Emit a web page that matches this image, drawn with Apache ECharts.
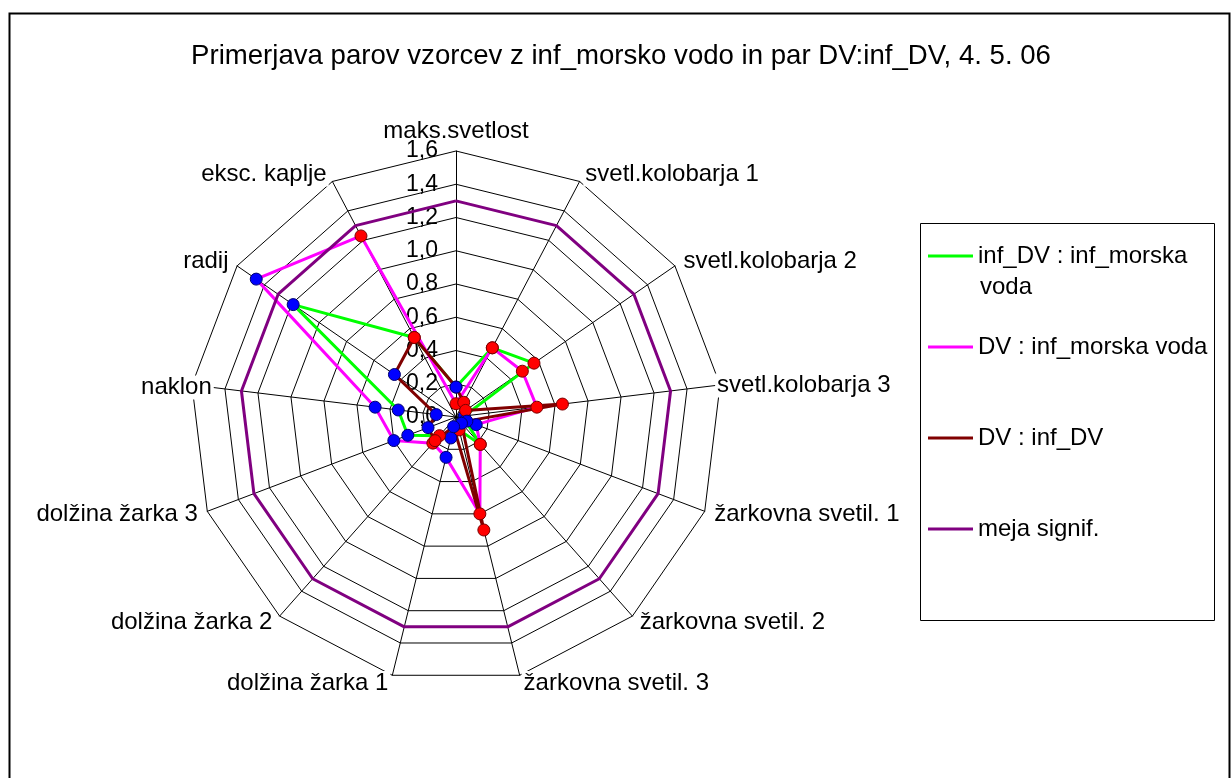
<!DOCTYPE html>
<html>
<head>
<meta charset="utf-8">
<script src="https://cdn.jsdelivr.net/npm/echarts@6/dist/echarts.min.js"></script>
<style>
html,body{margin:0;padding:0;background:#fff;}
#chart{width:1231px;height:778px;}
</style>
</head>
<body>
<div id="chart"></div>
<script>
// ---- data (clockwise from top) ----
const categories = ['maks.svetlost','svetl.kolobarja 1','svetl.kolobarja 2','svetl.kolobarja 3','žarkovna svetil. 1','žarkovna svetil. 2','žarkovna svetil. 3','dolžina žarka 1','dolžina žarka 2','dolžina žarka 3','naklon','radij','eksc. kaplje'];
const seriesNames = ['inf_DV : inf_morska voda','DV : inf_morska voda','DV : inf_DV','meja signif.'];
const greenValues   = [0.18, 0.47, 0.57, 0.05, 0.06, 0.22, 0.08, 0.13, 0.15, 0.31, 0.35, 1.19, 0.54];
const magentaValues = [0.08, 0.47, 0.485, 0.49, 0.13, 0.22, 0.60, 0.25, 0.21, 0.40, 0.49, 1.46, 1.23];
const darkRedValues = [0.18, 0.10, 0.07, 0.645, 0.07, 0.05, 0.70, 0.06, 0.19, 0.18, 0.12, 0.45, 0.54];
const limitValues   = [1.3, 1.3, 1.3, 1.3, 1.3, 1.3, 1.3, 1.3, 1.3, 1.3, 1.3, 1.3, 1.3];
// marker colours per point: 'r' = red, 'b' = blue
const greenMarkers   = ['b','r','r','b','b','r','r','b','r','b','b','b','r'];
const magentaMarkers = ['r','r','r','r','b','r','r','b','r','b','b','b','r'];
const darkRedMarkers = ['b','r','r','r','b','b','r','b','r','b','b','b','r'];
const tickValues = [0, 0.2, 0.4, 0.6, 0.8, 1.0, 1.2, 1.4, 1.6];

// ---- layout / style ----
const CX = 456, CY = 417, R = 266;
const FONT = '"Liberation Sans", Arial, sans-serif';
const lineColors = ['#00FF00', '#FF00FF', '#800000', '#800080'];
// label distance from the outer ring (Excel puts the side labels over the ring)
const nameGaps = { 'naklon': -22, 'svetl.kolobarja 3': -5 };

// ECharts radar runs counter-clockwise: reorder so it reads clockwise
const order = [0].concat(categories.map((c, i) => i).slice(1).reverse());
const reorder = arr => order.map(i => arr[i]);

const AX_MIN = tickValues[0], AX_MAX = tickValues[tickValues.length - 1];
const plainIndicator = order.map(i => ({ name: categories[i], min: AX_MIN, max: AX_MAX }));
const tickIndicator = order.map((i, k) => {
  const ind = { name: categories[i], min: AX_MIN, max: AX_MAX };
  if (k === 0) ind.axisLabel = { show: true };
  return ind;
});
const nameIndicator = order.map(i => {
  const ind = { name: categories[i], min: AX_MIN, max: AX_MAX };
  if (nameGaps[categories[i]] !== undefined) ind.nameGap = nameGaps[categories[i]];
  return ind;
});

const valueSets = [greenValues, magentaValues, darkRedValues, limitValues];
const lineSeries = valueSets.map((vals, s) => ({
  type: 'radar',
  radarIndex: 0,
  name: seriesNames[s],
  symbol: 'none',
  z: 4 + s,
  color: lineColors[s],
  lineStyle: { color: lineColors[s], width: 3 },
  data: [{ value: reorder(vals), name: seriesNames[s] }]
}));

const markerFill = { r: '#FF0000', b: '#0000FF' };
const markerBorder = { r: '#7a0000', b: '#000070' };
const markerSets = [[greenValues, greenMarkers], [magentaValues, magentaMarkers], [darkRedValues, darkRedMarkers]];
const markerSeries = markerSets.map(([vals, cols], s) => ({
  type: 'scatter',
  name: 'markers ' + s,
  coordinateSystem: 'polar',
  symbol: 'circle',
  symbolSize: 12,
  z: 10 + s,
  silent: true,
  data: vals.map((v, i) => ({
    value: [v, categories[i]],
    itemStyle: { color: markerFill[cols[i]], borderColor: markerBorder[cols[i]], borderWidth: 1, opacity: 1 }
  }))
}));

const baseRadar = {
  center: [CX, CY],
  radius: R,
  startAngle: 90,
  shape: 'polygon',
  splitNumber: tickValues.length - 1,
  splitArea: { show: false },
  axisTick: { show: false }
};

const chart = echarts.init(document.getElementById('chart'), null, { renderer: 'canvas' });
chart.setOption({
  backgroundColor: '#fff',
  animation: false,
  title: {
    text: 'Primerjava parov vzorcev z inf_morsko vodo in par DV:inf_DV, 4. 5. 06',
    left: 616, top: 37, textAlign: 'center',
    textStyle: { fontFamily: FONT, fontSize: 27.6, fontWeight: 'normal', color: '#000' }
  },
  legend: {
    data: seriesNames,
    orient: 'vertical',
    left: 928, top: 244,
    padding: 0,
    itemGap: 67,
    itemWidth: 45, itemHeight: 3,
    icon: 'rect',
    formatter: name => name === seriesNames[0] ? 'inf_DV : inf_morska' : name,
    textStyle: { fontFamily: FONT, fontSize: 24, color: '#000', lineHeight: 24 },
    selectedMode: false
  },
  radar: [
    // grid
    Object.assign({}, baseRadar, {
      z: 0,
      indicator: plainIndicator,
      axisName: { show: false },
      splitLine: { lineStyle: { color: '#000', width: 1 } },
      axisLine: { lineStyle: { color: '#000', width: 1 } },
      axisLabel: { show: false }
    }),
    // category names (opaque, over the grid)
    Object.assign({}, baseRadar, {
      z: 1,
      indicator: nameIndicator,
      nameGap: 8,
      axisName: { color: '#000', fontFamily: FONT, fontSize: 24, backgroundColor: '#fff', padding: [0, 2] },
      splitLine: { show: false },
      axisLine: { show: false },
      axisLabel: { show: false }
    }),
    // tick labels on the first axis
    Object.assign({}, baseRadar, {
      z: 2,
      indicator: tickIndicator,
      axisName: { show: false },
      splitLine: { show: false },
      axisLine: { show: false },
      axisLabel: {
        show: false, fontFamily: FONT, fontSize: 23, color: '#000', margin: 18,
        formatter: v => Number(v).toFixed(1).replace('.', ',')
      }
    })
  ],
  polar: { center: [CX, CY], radius: R },
  angleAxis: {
    type: 'category', data: categories, startAngle: 90, clockwise: true,
    boundaryGap: false, show: false
  },
  radiusAxis: { min: AX_MIN, max: AX_MAX, show: false },
  graphic: [
    { type: 'rect', z: -1, shape: { x: 9.5, y: 13.5, width: 1220, height: 800 },
      style: { fill: 'none', stroke: '#000', lineWidth: 2 } },
    { type: 'rect', z: 1, shape: { x: 920.5, y: 223.5, width: 294, height: 397 },
      style: { fill: 'none', stroke: '#000', lineWidth: 1 } },
    { type: 'text', z: 5, left: 980, top: 275,
      style: { text: 'voda', fontFamily: FONT, fontSize: 24, fill: '#000' } }
  ],
  series: lineSeries.concat(markerSeries)
});
</script>
</body>
</html>
